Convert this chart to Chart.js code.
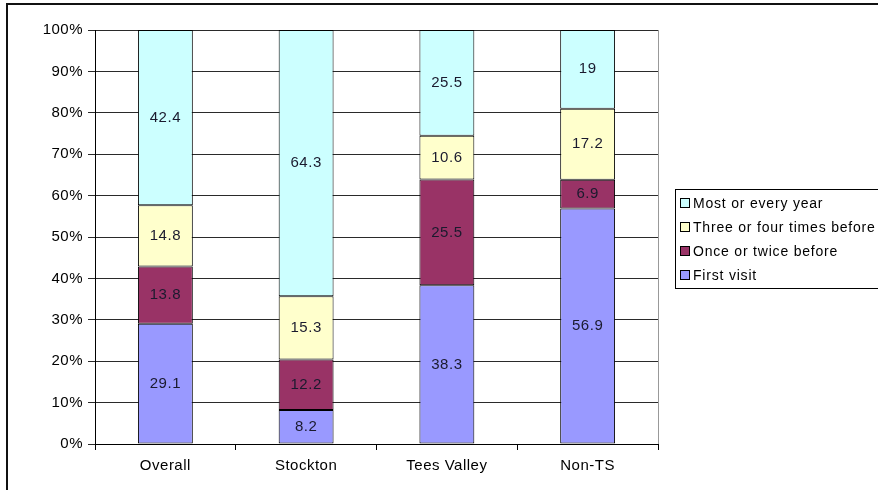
<!DOCTYPE html>
<html>
<head>
<meta charset="utf-8">
<title>Visit frequency</title>
<script src="https://cdn.jsdelivr.net/npm/chart.js@4/dist/chart.umd.min.js"></script>
<style>
  html, body { margin: 0; padding: 0; background: #fff; }
  #wrap { width: 878px; height: 491px; position: relative; }
</style>
</head>
<body>
<div id="wrap"><canvas id="visitChart" width="878" height="491"></canvas></div>
<script>
const categories = ['Overall', 'Stockton', 'Tees Valley', 'Non-TS'];
const firstVisit = [29.1, 8.2, 38.3, 56.9];
const onceOrTwice = [13.8, 12.2, 25.5, 6.9];
const threeOrFour = [14.8, 15.3, 10.6, 17.2];
const mostYears = [42.4, 64.3, 25.5, 19];
const yTicks = [0, 10, 20, 30, 40, 50, 60, 70, 80, 90, 100];

const series = [
  { label: 'First visit', values: firstVisit, color: '#9999ff' },
  { label: 'Once or twice before', values: onceOrTwice, color: '#993366' },
  { label: 'Three or four times before', values: threeOrFour, color: '#ffffcc' },
  { label: 'Most or every year', values: mostYears, color: '#ccffff' }
];

// 100% stacked: scale each column to its own total
const totals = categories.map((_, i) => series.reduce((s, d) => s + d.values[i], 0));

const FONT = 'Arial, "Liberation Sans", sans-serif';

const frame = {
  id: 'frame',
  beforeDraw(chart) {
    const c = chart.ctx;
    c.save();
    c.fillStyle = '#fff';
    c.fillRect(0, 0, chart.width, chart.height);
    c.strokeStyle = '#111';
    c.lineWidth = 2;
    c.beginPath();
    c.moveTo(7, 490);
    c.lineTo(7, 4);
    c.lineTo(880, 4);
    c.stroke();
    c.restore();
    // excel-ish wide text for the axis labels
    c.letterSpacing = '0.5px';
  },
  afterDatasetsDraw(chart) {
    const c = chart.ctx;
    const a = chart.chartArea;
    c.save();
    // right edge of plot area
    c.strokeStyle = '#999';
    c.lineWidth = 1;
    c.beginPath();
    c.moveTo(Math.round(a.right) + 0.5, a.top);
    c.lineTo(Math.round(a.right) + 0.5, a.bottom);
    c.stroke();

    // value labels in the middle of each segment
    c.font = '15px ' + FONT;
    c.fillStyle = '#1a1a2e';
    c.textAlign = 'center';
    c.textBaseline = 'middle';
    chart.data.datasets.forEach((ds, di) => {
      chart.getDatasetMeta(di).data.forEach((bar, i) => {
        const mid = (bar.y + bar.base) / 2;
        c.fillText(String(ds.raw[i]), bar.x, mid);
      });
    });

    // legend box, listed top series first
    const lx = 675, ly = 189, lw = 210, lh = 99;
    c.strokeStyle = '#000';
    c.lineWidth = 1;
    c.strokeRect(lx + 0.5, ly + 0.5, lw, lh);
    c.font = '14px ' + FONT;
    c.letterSpacing = '0.8px';
    c.textAlign = 'left';
    c.fillStyle = '#000';
    const items = chart.data.datasets.slice().reverse();
    items.forEach((ds, k) => {
      const y = ly + 14 + k * 24;
      c.fillStyle = ds.backgroundColor;
      c.fillRect(680.5, y - 4.5, 9, 9);
      c.strokeStyle = '#000';
      c.strokeRect(680.5, y - 4.5, 9, 9);
      c.fillStyle = '#000';
      c.fillText(ds.label, 693, y + 1);
    });
    c.restore();
  }
};

const data = {
  labels: categories,
  datasets: series.map(s => ({
    label: s.label,
    raw: s.values,
    data: s.values.map((v, i) => v / totals[i] * 100),
    backgroundColor: s.color,
    borderColor: '#000',
    borderWidth: 1,
    borderSkipped: false,
    categoryPercentage: 1,
    barPercentage: 0.39
  }))
};

const config = {
  type: 'bar',
  data,
  plugins: [frame],
  options: {
    responsive: false,
    animation: false,
    layout: { padding: { left: 0, top: 30, right: 220, bottom: 0 } },
    plugins: {
      legend: { display: false },
      tooltip: { enabled: false }
    },
    scales: {
      x: {
        stacked: true,
        afterFit(scale) { scale.height = 47; },
        grid: {
          offset: true,
          drawOnChartArea: false,
          drawTicks: true,
          tickLength: 6,
          color: '#000'
        },
        border: { color: '#000', width: 1 },
        ticks: { color: '#000', font: { family: FONT, size: 15 }, padding: 7 }
      },
      y: {
        stacked: true,
        min: 0,
        max: 100,
        afterFit(scale) { scale.width = 95; },
        afterBuildTicks(scale) { scale.ticks = yTicks.map(v => ({ value: v })); },
        grid: {
          color: '#2a2a2a',
          tickLength: 7,
          drawTicks: true
        },
        border: { color: '#000', width: 1 },
        ticks: {
          color: '#000',
          font: { family: FONT, size: 15 },
          padding: 5,
          callback: v => v + '%'
        }
      }
    }
  }
};

const canvas = document.getElementById('visitChart');
if (canvas) {
  new Chart(canvas.getContext('2d'), config);
} else {
  console.error('visitChart canvas not found');
}
</script>
</body>
</html>
